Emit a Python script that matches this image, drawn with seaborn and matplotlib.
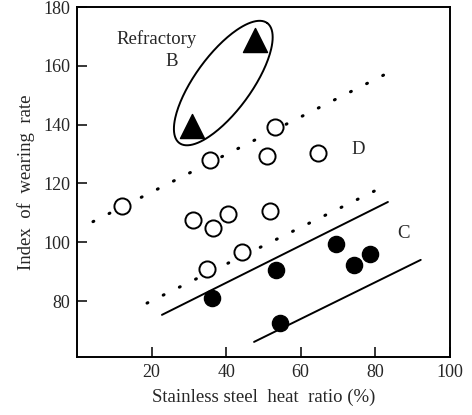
import numpy as np
import pandas as pd
import matplotlib
matplotlib.use("Agg")
import matplotlib.pyplot as plt
import seaborn as sns

# ---- data ----
open_x = [12.0, 31.0, 34.8, 35.7, 36.6, 40.6, 44.2, 50.9, 51.9, 53.1, 64.7]
open_y = [112.2, 107.5, 91.0, 128.1, 104.8, 109.6, 96.7, 129.5, 110.7, 139.3, 130.2]

filled_x = [36.3, 53.5, 54.4, 69.6, 74.4, 78.6]
filled_y = [81.0, 90.7, 72.5, 99.3, 92.3, 96.0]

tri_x = [30.8, 47.7]
tri_y = [139.5, 168.8]

# band lines (endpoints)
dot_upper_x = [4.3, 83.4]
dot_upper_y = [107.0, 157.6]
dot_lower_x = [18.8, 81.5]
dot_lower_y = [79.3, 118.5]
solid_upper_x = [22.8, 83.4]
solid_upper_y = [75.3, 113.7]
solid_lower_x = [47.5, 92.2]
solid_lower_y = [66.1, 94.0]

x_ticks = [20, 40, 60, 80, 100]
y_ticks = [80, 100, 120, 140, 160, 180]

# ---- figure ----
sns.set_style("ticks")
plt.rcParams['font.family'] = ['Liberation Serif', 'DejaVu Serif']
fig = plt.figure(figsize=(4.72, 4.15), dpi=100)
ax = fig.add_axes([0.163, 0.140, 0.790, 0.843])

ax.set_xlim(0, 100)
ax.set_ylim(61, 180)

for xs, ys in [(dot_upper_x, dot_upper_y), (dot_lower_x, dot_lower_y)]:
    sns.lineplot(x=xs, y=ys, ax=ax, color='black', linewidth=2.2,
                 linestyle=(0, (0.3, 5.6)), dash_capstyle='round',
                 estimator=None, sort=False)
for xs, ys in [(solid_upper_x, solid_upper_y), (solid_lower_x, solid_lower_y)]:
    sns.lineplot(x=xs, y=ys, ax=ax, color='black', linewidth=1.4,
                 estimator=None, sort=False)

sns.scatterplot(x=open_x, y=open_y, ax=ax, s=135, facecolor='white',
                edgecolor='black', linewidth=1.4, zorder=3)
sns.scatterplot(x=filled_x, y=filled_y, ax=ax, s=135, color='black',
                edgecolor='black', linewidth=1.0, zorder=3)
sns.scatterplot(x=tri_x, y=tri_y, ax=ax, s=300, marker='^', color='black',
                edgecolor='black', linewidth=1.0, zorder=3)

# ellipse around refractory B points (built in display space)
fig.canvas.draw()
pts = ax.transData.transform(np.column_stack([tri_x, tri_y]))
c = pts.mean(axis=0)
d = pts[1] - pts[0]
L = np.hypot(*d)
u = d / L
v = np.array([-u[1], u[0]])
a = L / 2 + 21
b = 28
t = np.linspace(0, 2 * np.pi, 200)
ell = c + np.outer(a * np.cos(t), u) + np.outer(b * np.sin(t), v)
ell_data = ax.transData.inverted().transform(ell)
ax.plot(ell_data[:, 0], ell_data[:, 1], color='black', linewidth=1.4)

fs = 13.5
ax.text(21.4, 169, "Refractory", fontsize=fs, ha='center', va='center')
ax.text(25.4, 161.4, "B", fontsize=fs, ha='center', va='center')
ax.text(75.4, 131.5, "D", fontsize=fs, ha='center', va='center')
ax.text(87.5, 103, "C", fontsize=fs, ha='center', va='center')

ax.set_xticks(x_ticks)
ax.set_yticks(y_ticks)
ax.tick_params(direction='in', length=7, width=1.3, labelsize=13, pad=5)
for s in ax.spines.values():
    s.set_linewidth(1.4)
    s.set_color('black')
ax.set_xlabel("Stainless steel  heat  ratio (%)", fontsize=fs, labelpad=6)
ax.set_ylabel("Index  of  wearing  rate", fontsize=fs, labelpad=6)

fig.savefig("out.png", dpi=100)
